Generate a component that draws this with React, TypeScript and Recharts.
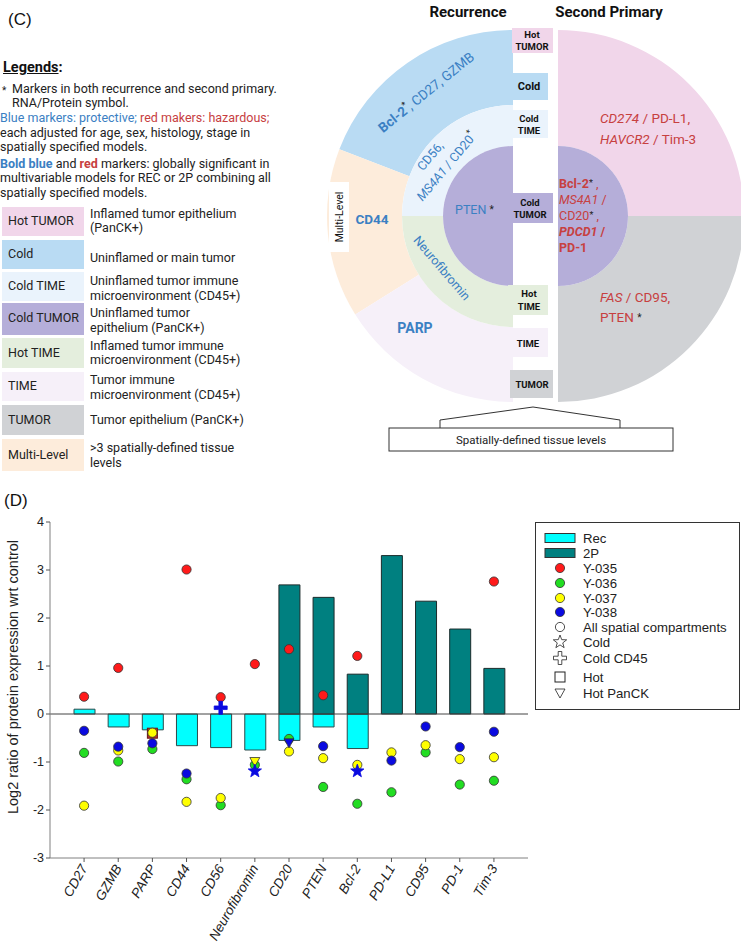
import React from "react";
import {
  PieChart,
  Pie,
  Cell,
  ComposedChart,
  Bar,
  Scatter,
  XAxis,
  YAxis,
  ReferenceLine,
} from "recharts";

// ---- panel D data ----
const categories = ["CD27", "GZMB", "PARP", "CD44", "CD56", "Neurofibromin", "CD20", "PTEN", "Bcl-2", "PD-L1", "CD95", "PD-1", "Tim-3"];
const recValues = [0.1, -0.27, -0.33, -0.66, -0.7, -0.75, -0.55, -0.27, -0.72, null, null, null, null];
const twoPValues = [null, null, null, null, null, null, 2.69, 2.43, 0.83, 3.3, 2.35, 1.77, 0.95];
const y035 = [0.36, 0.96, -0.4, 3.01, 0.35, 1.04, 1.35, 0.39, 1.21, null, null, null, 2.76];
const y036 = [-0.81, -0.99, -0.73, -1.36, -1.9, -1.06, -0.52, -1.52, -1.87, -1.63, -0.8, -1.47, -1.39];
const y037 = [-1.91, -0.76, -0.39, -1.83, -1.75, -0.99, -0.78, -0.92, -1.06, -0.8, -0.65, -0.94, -0.9];
const y038 = [-0.35, -0.68, -0.61, -1.24, 0.13, -1.19, -0.6, -0.67, -1.19, -0.97, -0.26, -0.69, -0.37];
const shape035 = ["circle", "circle", "square", "circle", "circle", "circle", "circle", "circle", "circle", "circle", "circle", "circle", "circle"];
const shape037 = ["circle", "circle", "circle", "circle", "circle", "triangle", "circle", "circle", "circle", "circle", "circle", "circle", "circle"];
const shape038 = ["circle", "circle", "circle", "circle", "cross", "star", "triangle", "circle", "star", "circle", "circle", "circle", "circle"];
const yTicks = [-3, -2, -1, 0, 1, 2, 3, 4];

const chartData = categories.map((name, i) => ({
  name,
  rec: recValues[i],
  twoP: twoPValues[i],
  y035: y035[i],
  y036: y036[i],
  y037: y037[i],
  y038: y038[i],
  s035: shape035[i],
  s036: "circle",
  s037: shape037[i],
  s038: shape038[i],
}));

// ---- panel C data ----
const levelNames = ["Hot TUMOR", "Cold", "Cold TIME", "Cold TUMOR", "Hot TIME", "TIME", "TUMOR", "Multi-Level"];
const levelText = [
  ["Inflamed tumor epithelium", "(PanCK+)"],
  ["Uninflamed or main tumor"],
  ["Uninflamed tumor immune", "microenvironment (CD45+)"],
  ["Uninflamed tumor", "epithelium (PanCK+)"],
  ["Inflamed tumor immune", "microenvironment (CD45+)"],
  ["Tumor immune", "microenvironment (CD45+)"],
  ["Tumor epithelium (PanCK+)"],
  [">3 spatially-defined tissue", "levels"],
];
const recOuter = [
  { name: "Cold", value: 69 },
  { name: "Multi-Level", value: 53 },
  { name: "TIME", value: 58 },
];
const recMiddle = [
  { name: "Cold TIME", value: 90 },
  { name: "Hot TIME", value: 90 },
];
const recInner = [{ name: "Cold TUMOR", value: 180 }];
const spOuter = [
  { name: "Hot TUMOR", value: 90 },
  { name: "TUMOR", value: 90 },
];
const spInner = [{ name: "Cold TUMOR", value: 180 }];

const levelColor: Record<string, string> = {
  "Hot TUMOR": "#f1d6ea",
  Cold: "#b9dbf3",
  "Cold TIME": "#eaf3fc",
  "Cold TUMOR": "#b5aed9",
  "Hot TIME": "#e4eedd",
  TIME: "#f6f0f9",
  TUMOR: "#d0d2d5",
  "Multi-Level": "#fdecdb",
};

const BLUE = "#3b80c3";
const RED = "#c7403f";
const ROBOTO = "Roboto, sans-serif";
const ARIAL = "'Liberation Sans', Arial, sans-serif";

const rowTop = [207, 240, 272, 303, 338, 372, 405, 439];
const rowH = [29, 29, 29, 32, 30, 29, 30, 32];
const labelY = [221, 254, 286, 318, 353, 386, 420, 455];
const descY = [[214, 228], [258], [281, 296], [313, 328], [346, 360], [380, 395], [420], [448, 463]];

const seriesColor: Record<string, string> = {
  y035: "#ff1a1a",
  y036: "#22dd22",
  y037: "#ffff00",
  y038: "#0a0ae0",
};

function Marker({ kind, cx, cy, color, hollow }: { kind: string; cx: number; cy: number; color: string; hollow?: boolean }) {
  const fill = hollow ? "#fff" : color;
  const stroke = hollow ? "#222" : kind === "star" || kind === "cross" ? color : "#333";
  if (kind === "square") {
    return <rect x={cx - 5} y={cy - 5} width={10} height={10} fill={hollow ? "#fff" : "#b8322c"} stroke={hollow ? "#222" : "#6a1512"} strokeWidth={1} />;
  }
  if (kind === "triangle") {
    return <polygon points={`${cx - 5},${cy - 4} ${cx + 5},${cy - 4} ${cx},${cy + 5}`} fill={fill} stroke={stroke} strokeWidth={0.8} />;
  }
  if (kind === "star") {
    const pts: string[] = [];
    for (let k = 0; k < 10; k++) {
      const r = k % 2 === 0 ? 7 : 2.9;
      const a = -Math.PI / 2 + (k * Math.PI) / 5;
      pts.push(`${cx + r * Math.cos(a)},${cy + r * Math.sin(a)}`);
    }
    return <polygon points={pts.join(" ")} fill={fill} stroke={stroke} strokeWidth={0.8} />;
  }
  if (kind === "cross") {
    const a = 6.5;
    const t = 1.8;
    const d = `M${cx - t},${cy - a} H${cx + t} V${cy - t} H${cx + a} V${cy + t} H${cx + t} V${cy + a} H${cx - t} V${cy + t} H${cx - a} V${cy - t} H${cx - t} Z`;
    return <path d={d} fill={fill} stroke={stroke} strokeWidth={0.8} />;
  }
  return <circle cx={cx} cy={cy} r={4.6} fill={fill} stroke={stroke} strokeWidth={0.8} />;
}

const makeShape = (key: string, shapeKey: string) => (props: any) => {
  const { cx, cy, payload } = props;
  if (payload == null || payload[key] == null || cx == null || cy == null || isNaN(cy)) return <g />;
  return <Marker kind={payload[shapeKey]} cx={cx} cy={cy} color={seriesColor[key]} />;
};

const XTick = (props: any) => {
  const { x, y, payload } = props;
  const ax = x + 4;
  const ay = y + 4;
  return (
    <text x={ax} y={ay} transform={`rotate(-60 ${ax} ${ay})`} textAnchor="end" fontStyle="italic" fontSize={13.5} fontFamily={ARIAL} fill="#222">
      {payload.value}
    </text>
  );
};

const Star = () => (
  <tspan fill="#222" fontSize={9} dy={-4}>
    *
  </tspan>
);

function LegendC() {
  const line = (y: number, x: number, content: React.ReactNode) => (
    <div style={{ position: "absolute", left: x, top: y - 8, lineHeight: "16px", fontSize: 12.5, whiteSpace: "nowrap", color: "#222" }}>{content}</div>
  );
  return (
    <>
      <div style={{ position: "absolute", left: 8, top: 10, fontSize: 17, lineHeight: "20px", fontFamily: ARIAL, color: "#111" }}>(C)</div>
      <div style={{ position: "absolute", left: 3, top: 59, fontSize: 14.5, lineHeight: "18px", fontWeight: 700, color: "#111" }}>
        <span style={{ textDecoration: "underline" }}>Legends</span>:
      </div>
      {line(90, 2, <span style={{ fontSize: 10 }}>*</span>)}
      {line(89, 12, "Markers in both recurrence and second primary.")}
      {line(103, 12, "RNA/Protein symbol.")}
      {line(118, 0, <><span style={{ color: BLUE }}>Blue markers: protective;</span> <span style={{ color: RED }}>red makers: hazardous;</span></>)}
      {line(133, 0, "each adjusted for age, sex, histology, stage in")}
      {line(147, 0, "spatially specified models.")}
      {line(164, 0, <><b style={{ color: BLUE }}>Bold blue</b> and <b style={{ color: RED }}>red</b> markers: globally significant in</>)}
      {line(178, 0, "multivariable models for REC or 2P combining all")}
      {line(193, 0, "spatially specified models.")}
      {levelNames.map((n, i) => (
        <React.Fragment key={n}>
          <div style={{ position: "absolute", left: 2, top: rowTop[i], width: 82, height: rowH[i], background: levelColor[n] }} />
          {line(labelY[i], 8, n)}
          {levelText[i].map((t, j) => (
            <React.Fragment key={t}>{line(descY[i][j], 90, t)}</React.Fragment>
          ))}
        </React.Fragment>
      ))}
    </>
  );
}

function Wheel() {
  const pieProps = { dataKey: "value", stroke: "none", isAnimationActive: false } as const;
  return (
    <>
      <div style={{ position: "absolute", left: 0, top: 0 }}>
        <PieChart width={741} height={470}>
          <Pie {...pieProps} data={recOuter} cx={508} cy={211} innerRadius={111} outerRadius={186} startAngle={90} endAngle={270}>
            {recOuter.map((d) => <Cell key={d.name} fill={levelColor[d.name]} />)}
          </Pie>
          <Pie {...pieProps} data={recMiddle} cx={508} cy={211} innerRadius={70} outerRadius={111} startAngle={90} endAngle={270}>
            {recMiddle.map((d) => <Cell key={d.name} fill={levelColor[d.name]} />)}
          </Pie>
          <Pie {...pieProps} data={recInner} cx={508} cy={211} innerRadius={0} outerRadius={70} startAngle={90} endAngle={270}>
            {recInner.map((d) => <Cell key={d.name} fill={levelColor[d.name]} />)}
          </Pie>
          <Pie {...pieProps} data={spOuter} cx={553} cy={211} innerRadius={70} outerRadius={186} startAngle={90} endAngle={-90}>
            {spOuter.map((d) => <Cell key={d.name} fill={levelColor[d.name]} />)}
          </Pie>
          <Pie {...pieProps} data={spInner} cx={553} cy={211} innerRadius={0} outerRadius={70} startAngle={90} endAngle={-90}>
            {spInner.map((d) => <Cell key={d.name} fill={levelColor[d.name]} />)}
          </Pie>
        </PieChart>
      </div>
      <svg width={741} height={470} style={{ position: "absolute", left: 0, top: 0 }} fontFamily={ROBOTO}>
        <text x={468} y={12} textAnchor="middle" dominantBaseline="central" fontWeight={700} fontSize={15} fill="#111">Recurrence</text>
        <text x={609} y={12} textAnchor="middle" dominantBaseline="central" fontWeight={700} fontSize={15} fill="#111">Second Primary</text>

        {/* centre column labels */}
        <rect x={512} y={28} width={41} height={25} fill={levelColor["Hot TUMOR"]} />
        <rect x={508} y={73} width={40} height={27} fill={levelColor.Cold} />
        <rect x={508} y={110} width={40} height={28} fill={levelColor["Cold TIME"]} />
        <rect x={508} y={193} width={45} height={30} fill={levelColor["Cold TUMOR"]} />
        <rect x={508} y={285} width={40} height={30} fill={levelColor["Hot TIME"]} />
        <rect x={508} y={328} width={40} height={29} fill={levelColor.TIME} />
        <rect x={510} y={370} width={43} height={28} fill={levelColor.TUMOR} />
        <g fontWeight={700} fontSize={9.5} fill="#111" textAnchor="middle" dominantBaseline="central">
          <text x={532} y={34}>Hot</text>
          <text x={532} y={46}>TUMOR</text>
          <text x={529} y={86} fontSize={11}>Cold</text>
          <text x={529} y={118}>Cold</text>
          <text x={529} y={130}>TIME</text>
          <text x={530} y={202}>Cold</text>
          <text x={530} y={214}>TUMOR</text>
          <text x={529} y={293}>Hot</text>
          <text x={529} y={306}>TIME</text>
          <text x={528} y={343}>TIME</text>
          <text x={532} y={384}>TUMOR</text>
        </g>

        {/* recurrence markers */}
        <text transform="translate(426,92) rotate(-39)" textAnchor="middle" dominantBaseline="central" fontSize={13.5} fill={BLUE}>
          <tspan fontWeight={700}>Bcl-2</tspan>
          <Star />
          <tspan dy={4}>, CD27, GZMB</tspan>
        </text>
        <text transform="translate(430,156) rotate(-50)" textAnchor="middle" dominantBaseline="central" fontSize={12.5} fill={BLUE}>CD56,</text>
        <text transform="translate(446,166) rotate(-50)" textAnchor="middle" dominantBaseline="central" fontSize={12.5} fill={BLUE}>
          <tspan fontStyle="italic">MS4A1</tspan>
          <tspan> / CD20</tspan>
          <Star />
        </text>
        <text x={455} y={209} dominantBaseline="central" fontSize={12.5} fill={BLUE}>
          PTEN
          <tspan fill="#222" fontSize={10} dx={3}>*</tspan>
        </text>
        <text transform="translate(442,268) rotate(49.5)" textAnchor="middle" dominantBaseline="central" fontSize={12.5} fill={BLUE}>Neurofibromin</text>
        <text x={372} y={219} textAnchor="middle" dominantBaseline="central" fontSize={13.5} fontWeight={700} fill={BLUE}>CD44</text>
        <text x={415} y={328} textAnchor="middle" dominantBaseline="central" fontSize={14} fontWeight={700} fill={BLUE}>PARP</text>
        <rect x={329} y={182} width={20} height={70} fill="#fff" />
        <text transform="translate(339,217) rotate(-90)" textAnchor="middle" dominantBaseline="central" fontSize={10.5} fill="#111">Multi-Level</text>

        {/* second primary markers */}
        <g fontSize={13.5} fill={RED} dominantBaseline="central">
          <text x={600} y={118}><tspan fontStyle="italic">CD274</tspan> / PD-L1,</text>
          <text x={600} y={139}><tspan fontStyle="italic">HAVCR2</tspan> / Tim-3</text>
          <text x={600} y={297}><tspan fontStyle="italic">FAS</tspan> / CD95,</text>
          <text x={600} y={317}>PTEN <tspan fill="#222" fontSize={10}>*</tspan></text>
        </g>
        <g fontSize={12.5} fill={RED} dominantBaseline="central">
          <text x={559} y={183}><tspan fontWeight={700}>Bcl-2</tspan><tspan fill="#222" fontSize={9}>*</tspan> ,</text>
          <text x={559} y={199}><tspan fontStyle="italic">MS4A1</tspan> /</text>
          <text x={559} y={215}>CD20<tspan fill="#222" fontSize={9}>*</tspan> ,</text>
          <text x={559} y={231} fontWeight={700}><tspan fontStyle="italic">PDCD1</tspan> /</text>
          <text x={559} y={247} fontWeight={700}>PD-1</text>
        </g>

        {/* bracket */}
        <polyline points="440,428 440,420 533,407 620,420 620,428" fill="none" stroke="#333" strokeWidth={1} />
        <rect x={389} y={428} width={284} height={23} fill="#fff" stroke="#333" strokeWidth={1} />
        <text x={531} y={439.5} textAnchor="middle" dominantBaseline="central" fontSize={11.5} fill="#222">Spatially-defined tissue levels</text>
      </svg>
    </>
  );
}

function LegendD() {
  const rows: { label: string; kind: string; color?: string; y: number }[] = [
    { label: "Rec", kind: "bar", color: "#00ffff", y: 16 },
    { label: "2P", kind: "bar", color: "#008080", y: 31 },
    { label: "Y-035", kind: "circle", color: seriesColor.y035, y: 46 },
    { label: "Y-036", kind: "circle", color: seriesColor.y036, y: 61 },
    { label: "Y-037", kind: "circle", color: seriesColor.y037, y: 76 },
    { label: "Y-038", kind: "circle", color: seriesColor.y038, y: 90 },
    { label: "All spatial compartments", kind: "circle", y: 105 },
    { label: "Cold", kind: "star", y: 120 },
    { label: "Cold CD45", kind: "cross", y: 136 },
    { label: "Hot", kind: "square", y: 155 },
    { label: "Hot PanCK", kind: "triangle", y: 171 },
  ];
  return (
    <svg width={206} height={189} style={{ position: "absolute", left: 535, top: 522 }} fontFamily={ARIAL}>
      <rect x={0.5} y={0.5} width={204} height={187} fill="#fff" stroke="#333" strokeWidth={1} />
      {rows.map((r) => (
        <g key={r.label}>
          {r.kind === "bar" ? (
            <rect x={10} y={r.y - 4.5} width={30} height={9} fill={r.color} stroke="#333" strokeWidth={1} />
          ) : (
            <Marker kind={r.kind} cx={25} cy={r.y} color={r.color || "#fff"} hollow={!r.color} />
          )}
          <text x={48} y={r.y} dominantBaseline="central" fontSize={13.2} fill="#222">
            {r.label}
          </text>
        </g>
      ))}
    </svg>
  );
}

function PanelD() {
  return (
    <>
      <div style={{ position: "absolute", left: 4, top: 491, fontSize: 17, lineHeight: "20px", fontFamily: ARIAL, color: "#111" }}>(D)</div>
      <div style={{ position: "absolute", left: 0, top: 500 }}>
        <ComposedChart width={741} height={445} data={chartData} margin={{ top: 22, right: 213, bottom: 0, left: 0 }} stackOffset="sign" barSize={21}>
          <XAxis dataKey="name" height={87} interval={0} padding={{ left: 17, right: 17 }} tick={<XTick />} tickSize={4} tickLine={{ stroke: "#555" }} axisLine={{ stroke: "#808080" }} />
          <XAxis xAxisId="top" dataKey="name" orientation="top" height={0} padding={{ left: 17, right: 17 }} tick={false} tickLine={false} axisLine={{ stroke: "#808080" }} />
          <YAxis
            domain={[-3, 4]}
            ticks={yTicks}
            interval={0}
            width={50}
            tickSize={4}
            allowDataOverflow
            tick={{ fontSize: 12.5, fill: "#222", fontFamily: ARIAL }}
            tickLine={{ stroke: "#555" }}
            axisLine={{ stroke: "#808080" }}
          />
          <YAxis yAxisId="right" orientation="right" domain={[-3, 4]} width={0} tick={false} tickLine={false} axisLine={{ stroke: "#808080" }} />
          <Bar dataKey="rec" stackId="s" fill="#00ffff" stroke="#2c4a4a" strokeWidth={1} isAnimationActive={false} />
          <Bar dataKey="twoP" stackId="s" fill="#008080" stroke="#1b2b2b" strokeWidth={1} isAnimationActive={false} />
          <ReferenceLine y={0} stroke="#444" strokeWidth={1} />
          <Scatter dataKey="y035" fill={seriesColor.y035} shape={makeShape("y035", "s035")} isAnimationActive={false} />
          <Scatter dataKey="y036" fill={seriesColor.y036} shape={makeShape("y036", "s036")} isAnimationActive={false} />
          <Scatter dataKey="y037" fill={seriesColor.y037} shape={makeShape("y037", "s037")} isAnimationActive={false} />
          <Scatter dataKey="y038" fill={seriesColor.y038} shape={makeShape("y038", "s038")} isAnimationActive={false} />
        </ComposedChart>
      </div>
      <svg width={30} height={400} style={{ position: "absolute", left: 0, top: 520 }} fontFamily={ARIAL}>
        <text transform="translate(13,157) rotate(-90)" textAnchor="middle" dominantBaseline="central" fontSize={14.5} fill="#222">
          Log2 ratio of protein expression wrt control
        </text>
      </svg>
      <LegendD />
    </>
  );
}

export default function App() {
  return (
    <div style={{ position: "absolute", left: 0, top: 0, width: 741, height: 945, background: "#fff", fontFamily: ROBOTO, overflow: "hidden" }}>
      <LegendC />
      <Wheel />
      <PanelD />
    </div>
  );
}
